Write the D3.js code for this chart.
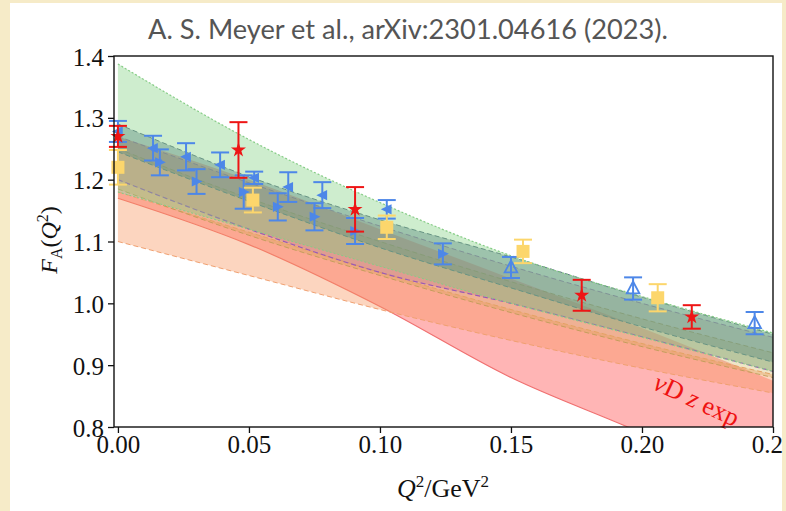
<!DOCTYPE html>
<html>
<head>
<meta charset="utf-8">
<script src="https://cdn.jsdelivr.net/npm/d3@7"></script>
<style>
  html, body { margin: 0; padding: 0; background: #f6ebc8; }
  svg { display: block; }
</style>
</head>
<body>
<svg id="chart" width="786" height="511"></svg>
<script>
// Q^2 nodes (GeV^2) at which band edges are tabulated
const qNodes = [0.00, 0.05, 0.10, 0.15, 0.20, 0.25];

// Lattice / experiment bands: upper and lower edges of F_A at qNodes
const nuDUpper    = [1.270, 1.200, 1.120, 1.040, 0.960, 0.875];
const nuDLower    = [1.170, 1.095, 0.995, 0.880, 0.790, 0.690];
const peachUpper  = [1.180, 1.115, 1.050, 0.990, 0.935, 0.885];
const peachLower  = [1.100, 1.045, 0.990, 0.940, 0.895, 0.855];
const oliveUpper  = [1.250, 1.170, 1.100, 1.035, 0.975, 0.920];
const oliveLower  = [1.185, 1.110, 1.045, 0.985, 0.930, 0.880];
const mauveUpper  = [1.270, 1.195, 1.125, 1.060, 1.000, 0.945];
const mauveLower  = [1.200, 1.120, 1.050, 1.000, 0.946, 0.890];
const slateUpper  = [1.290, 1.205, 1.135, 1.075, 1.010, 0.950];
const slateLower  = [1.245, 1.165, 1.090, 1.025, 0.962, 0.905];
const greenUpper  = [1.387, 1.265, 1.163, 1.077, 1.011, 0.952];
const greenLower  = [1.180, 1.120, 1.060, 1.000, 0.945, 0.890];

// Red stars
const starQ   = [0.000, 0.046, 0.0905, 0.177, 0.219];
const starF   = [1.270, 1.248, 1.152, 1.013, 0.978];
const starErr = [0.017, 0.045, 0.036, 0.025, 0.019];

// Yellow squares
const squareQ   = [0.000, 0.0515, 0.1026, 0.1546, 0.206];
const squareF   = [1.220, 1.167, 1.123, 1.084, 1.009];
const squareErr = [0.028, 0.020, 0.019, 0.019, 0.022];

// Blue filled triangles (left- and right-pointing)
const triLQ   = [0.000, 0.0134, 0.026, 0.039, 0.052, 0.065, 0.078, 0.1026];
const triLF   = [1.278, 1.251, 1.237, 1.224, 1.203, 1.188, 1.175, 1.152];
const triLErr = [0.017, 0.020, 0.022, 0.020, 0.010, 0.024, 0.021, 0.015];
const triRQ   = [0.016, 0.030, 0.048, 0.061, 0.075, 0.0905, 0.124];
const triRF   = [1.228, 1.197, 1.180, 1.156, 1.140, 1.117, 1.080];
const triRErr = [0.021, 0.020, 0.027, 0.022, 0.022, 0.021, 0.017];

// Blue open up-triangles
const openQ   = [0.150, 0.1966, 0.243];
const openF   = [1.058, 1.024, 0.968];
const openErr = [0.017, 0.018, 0.018];

const xTicks = [0.00, 0.05, 0.10, 0.15, 0.20, 0.25];
const yTicks = [0.8, 0.9, 1.0, 1.1, 1.2, 1.3, 1.4];

const svg = d3.select("#chart");

// white page panel
svg.append("rect").attr("x", 10).attr("y", 3).attr("width", 772).attr("height", 508).attr("fill", "#ffffff");

const plot = { left: 114, right: 773, top: 56, bottom: 427 };
const x = d3.scaleLinear().domain([-0.0015, 0.25]).range([plot.left, plot.right]);
const y = d3.scaleLinear().domain([0.8, 1.4]).range([plot.bottom, plot.top]);

const defs = svg.append("defs");
defs.append("clipPath").attr("id", "plotclip")
  .append("rect").attr("x", plot.left).attr("y", plot.top)
  .attr("width", plot.right - plot.left).attr("height", plot.bottom - plot.top);
defs.append("clipPath").attr("id", "pageclip")
  .append("rect").attr("x", 0).attr("y", 0).attr("width", 783).attr("height", 511);

const g = svg.append("g").attr("clip-path", "url(#plotclip)");

function bandData(up, lo) {
  return qNodes.map((q, i) => ({ q, u: up[i], l: lo[i] }));
}
const curve = d3.curveMonotoneX;
const area = d3.area().x(d => x(d.q)).y0(d => y(d.l)).y1(d => y(d.u)).curve(curve);
const lineU = d3.line().x(d => x(d.q)).y(d => y(d.u)).curve(curve);
const lineL = d3.line().x(d => x(d.q)).y(d => y(d.l)).curve(curve);

const bands = [
  { up: nuDUpper,   lo: nuDLower,   fill: "#ff6b6b", op: 0.50, edge: "#f07070", dashU: "none", dashL: "none", wU: 0, wL: 1.2 },
  { up: peachUpper, lo: peachLower, fill: "#f79560", op: 0.40, edge: "#f0a070", dashU: "5,3", dashL: "5,3", wU: 1, wL: 1 },
  { up: oliveUpper, lo: oliveLower, fill: "#c9a84a", op: 0.30, edge: "#b89a50", dashU: "5,3", dashL: "5,3", wU: 0.8, wL: 0.8 },
  { up: mauveUpper, lo: mauveLower, fill: "#b8708c", op: 0.30, edge: "#9b59b6", dashU: "5,3", dashL: "5,3", wU: 0.8, wL: 1.2 },
  { up: slateUpper, lo: slateLower, fill: "#45607e", op: 0.42, edge: "#5a6f87", dashU: "5,3", dashL: "5,3", wU: 1, wL: 1 },
  { up: greenUpper, lo: greenLower, fill: "#7fd07f", op: 0.38, edge: "#86cc86", dashU: "2,2", dashL: "2,2", wU: 1.2, wL: 1 }
];

bands.forEach(b => {
  const d = bandData(b.up, b.lo);
  g.append("path").datum(d).attr("d", area).attr("fill", b.fill).attr("fill-opacity", b.op).attr("stroke", "none");
  if (b.wU > 0) g.append("path").datum(d).attr("d", lineU).attr("fill", "none")
    .attr("stroke", b.edge).attr("stroke-width", b.wU).attr("stroke-dasharray", b.dashU);
  if (b.wL > 0) g.append("path").datum(d).attr("d", lineL).attr("fill", "none")
    .attr("stroke", b.edge).attr("stroke-width", b.wL).attr("stroke-dasharray", b.dashL);
});

const serif = "'Liberation Serif', 'DejaVu Serif', serif";

// band label
svg.append("text")
  .attr("transform", `translate(${x(0.2195)},${y(0.831)}) rotate(25)`)
  .attr("text-anchor", "middle")
  .attr("font-family", serif)
  .attr("font-size", 26).attr("fill", "#ee1111")
  .html('<tspan font-style="italic">ν</tspan>D <tspan font-style="italic">z</tspan> exp');

// error bars + markers
const pts = svg.append("g");
function errorBars(qs, fs, es, color) {
  qs.forEach((q, i) => {
    const cx = x(q), y1 = y(fs[i] + es[i]), y2 = y(fs[i] - es[i]);
    pts.append("line").attr("x1", cx).attr("x2", cx).attr("y1", y1).attr("y2", y2)
      .attr("stroke", color).attr("stroke-width", 2);
    [y1, y2].forEach(yy => pts.append("line").attr("x1", cx - 9).attr("x2", cx + 9)
      .attr("y1", yy).attr("y2", yy).attr("stroke", color).attr("stroke-width", 2));
  });
}
function triPath(cx, cy, r, dir) {
  if (dir === "L") return `M${cx - r},${cy} L${cx + r * 0.8},${cy - r * 0.85} L${cx + r * 0.8},${cy + r * 0.85} Z`;
  if (dir === "R") return `M${cx + r},${cy} L${cx - r * 0.8},${cy - r * 0.85} L${cx - r * 0.8},${cy + r * 0.85} Z`;
  return `M${cx},${cy - r} L${cx + r * 0.9},${cy + r * 0.7} L${cx - r * 0.9},${cy + r * 0.7} Z`;
}

const blue = "#4d87e8", red = "#ee1515", yellow = "#fcd66c";

errorBars(triLQ, triLF, triLErr, blue);
triLQ.forEach((q, i) => pts.append("path").attr("d", triPath(x(q), y(triLF[i]), 6, "L")).attr("fill", blue));
errorBars(triRQ, triRF, triRErr, blue);
triRQ.forEach((q, i) => pts.append("path").attr("d", triPath(x(q), y(triRF[i]), 6, "R")).attr("fill", blue));

errorBars(openQ, openF, openErr, blue);
openQ.forEach((q, i) => pts.append("path").attr("d", triPath(x(q), y(openF[i]), 7, "U"))
  .attr("fill", "none").attr("stroke", blue).attr("stroke-width", 1.8));

errorBars(squareQ, squareF, squareErr, yellow);
squareQ.forEach((q, i) => pts.append("rect").attr("x", x(q) - 6.5).attr("y", y(squareF[i]) - 6.5)
  .attr("width", 13).attr("height", 13).attr("fill", yellow));

errorBars(starQ, starF, starErr, red);
const star = d3.symbol().type(d3.symbolStar).size(70);
starQ.forEach((q, i) => pts.append("path").attr("d", star())
  .attr("transform", `translate(${x(q)},${y(starF[i])})`).attr("fill", red));

// axes frame
const axisColor = "#111";
svg.append("rect").attr("x", plot.left).attr("y", plot.top)
  .attr("width", plot.right - plot.left).attr("height", plot.bottom - plot.top)
  .attr("fill", "none").attr("stroke", axisColor).attr("stroke-width", 1.4);

const axes = svg.append("g").attr("clip-path", "url(#pageclip)");
const xAxis = axes.append("g").attr("transform", `translate(0,${plot.bottom})`)
  .call(d3.axisBottom(x).tickValues(xTicks).tickFormat(d3.format(".2f")).tickSize(6).tickPadding(2));
const yAxis = axes.append("g").attr("transform", `translate(${plot.left},0)`)
  .call(d3.axisLeft(y).tickValues(yTicks).tickFormat(d3.format(".1f")).tickSize(6).tickPadding(4));
[xAxis, yAxis].forEach(a => {
  a.select(".domain").remove();
  a.selectAll(".tick line").attr("stroke", axisColor).attr("stroke-width", 1.3);
  a.selectAll(".tick text").attr("font-family", serif).attr("font-size", 25).attr("fill", "#111");
});
yAxis.selectAll(".tick text").attr("dy", "0.36em");

// axis titles
svg.append("text").attr("x", 443).attr("y", 497).attr("text-anchor", "middle")
  .attr("font-family", serif).attr("font-size", 26).attr("fill", "#111")
  .html('<tspan font-style="italic">Q</tspan><tspan dy="-10" font-size="17">2</tspan><tspan dy="10">/GeV</tspan><tspan dy="-10" font-size="17">2</tspan>');

svg.append("text").attr("transform", "translate(57,240) rotate(-90)").attr("text-anchor", "middle")
  .attr("font-family", serif).attr("font-size", 24).attr("fill", "#111")
  .html('<tspan font-style="italic">F</tspan><tspan dy="5" font-size="16">A</tspan><tspan dy="-5">(</tspan><tspan font-style="italic">Q</tspan><tspan dy="-9" font-size="16">2</tspan><tspan dy="9">)</tspan>');

// citation header
svg.append("text").attr("x", 408).attr("y", 39).attr("text-anchor", "middle")
  .attr("font-family", "Lato, 'Open Sans', sans-serif").attr("font-size", 26).attr("fill", "#555")
  .attr("textLength", 520).attr("lengthAdjust", "spacingAndGlyphs")
  .text("A. S. Meyer et al.,  arXiv:2301.04616 (2023).");
</script>
</body>
</html>
